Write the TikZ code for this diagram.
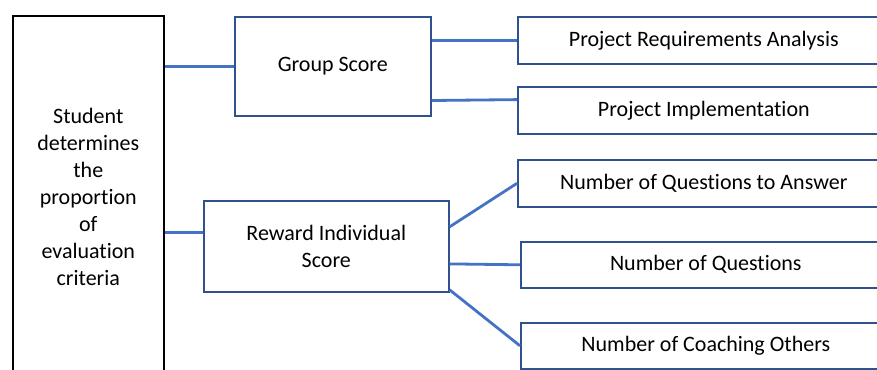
\documentclass[tikz,border=0pt]{standalone}
\usepackage{fontspec}
\setmainfont[Ligatures=NoCommon]{Carlito}
\usetikzlibrary{calc}
\definecolor{conn}{HTML}{4472C4}
\definecolor{navy}{HTML}{2F528F}
\begin{document}
\begin{tikzpicture}[x=1pt,y=-1pt,
  box/.style={draw=navy,line width=1.6pt,fill=white,inner sep=0pt,anchor=north west,font=\fontsize{22}{27}\selectfont,align=center},
  link/.style={draw=conn,line width=2.8pt}]
\useasboundingbox (0,0) rectangle (877,369);
\node[box,draw=black,minimum width=151pt,minimum height=362pt] (left) at (12,15)
  {Student\\determines\\the\\proportion\\of\\evaluation\\criteria};
\node[box,minimum width=196pt,minimum height=99pt] (group) at (234,16) {Group Score};
\node[box,minimum width=245pt,minimum height=91pt] (reward) at (203,200) {Reward Individual\\Score};
\node[box,minimum width=372pt,minimum height=47pt] (b1) at (517,16) {Project Requirements Analysis};
\node[box,minimum width=372pt,minimum height=47pt] (b2) at (517,86) {Project Implementation};
\node[box,minimum width=372pt,minimum height=47pt] (b3) at (517,159) {Number of Questions to Answer};
\node[box,minimum width=370pt,minimum height=46pt] (b4) at (520,241) {Number of Questions};
\node[box,minimum width=370pt,minimum height=46pt] (b5) at (520,322) {Number of Coaching Others};
\draw[link] (left.east |- group.west) -- (group.west);
\draw[link] (left.east |- {$(reward.north west)!0.35!(reward.south west)$}) -- ($(reward.north west)!0.35!(reward.south west)$);
\draw[link] (b1.west -| group.east) -- (b1.west);
\draw[link] ($(group.north east)!0.84!(group.south east)$) -- ($(b2.north west)!0.28!(b2.south west)$);
\draw[link] ($(reward.north east)!0.29!(reward.south east)$) -- (b3.west);
\draw[link] ($(reward.north east)!0.69!(reward.south east)$) -- (b4.west);
\draw[link] ($(reward.north east)!0.97!(reward.south east)$) -- (b5.west);
\end{tikzpicture}
\end{document}
